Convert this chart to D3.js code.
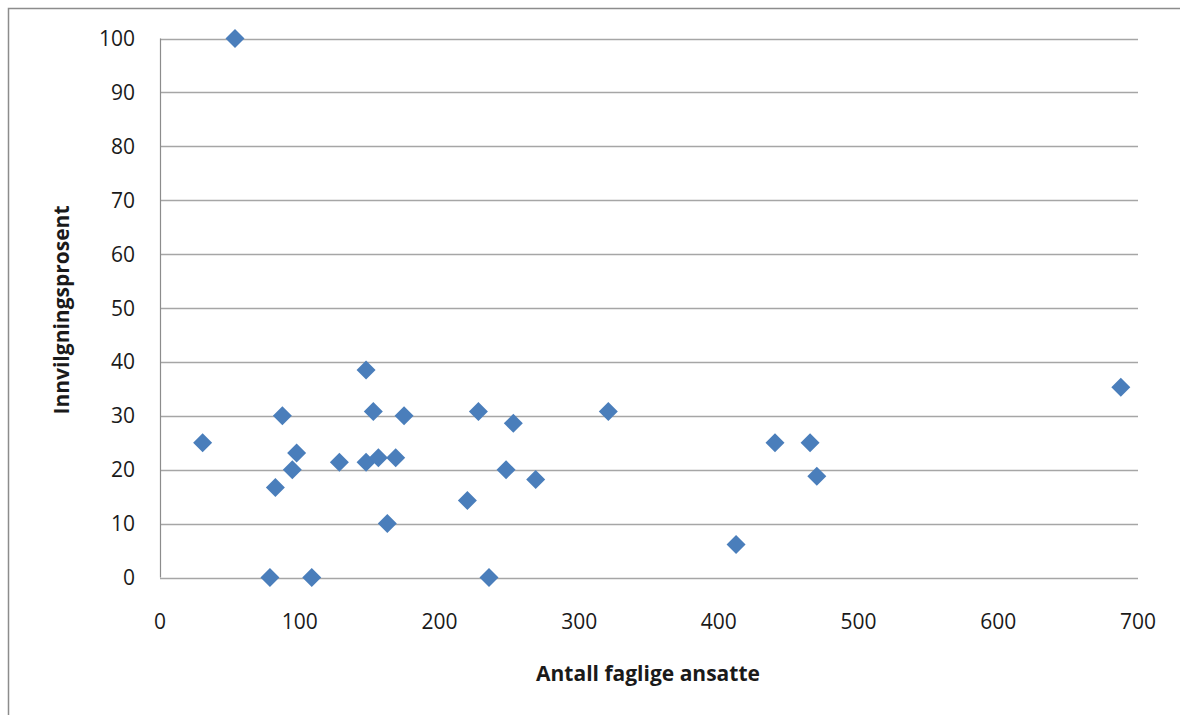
<!DOCTYPE html>
<html><head><meta charset="utf-8">
<script src="https://cdn.jsdelivr.net/npm/d3@7"></script>
<style>body{margin:0;background:#fff;}svg{display:block;font-family:"Open Sans",Lato,sans-serif;}</style>
</head><body>
<svg id="chart" width="1180" height="715"></svg>
<script>
const ansatte = [53.7, 30.5, 87.6, 97.8, 94.7, 82.6, 78.7, 108.6, 128.4, 147.5, 152.7, 156.3, 168.7, 174.7, 162.7, 147.5, 227.9, 252.9, 247.7, 220.0, 235.5, 268.9, 320.9, 412.3, 440.2, 465.3, 470.1, 687.7];
const prosent = [100, 25.0, 30.0, 23.1, 20.0, 16.7, 0, 0, 21.4, 21.4, 30.8, 22.2, 22.2, 30.0, 10.0, 38.5, 30.8, 28.6, 20.0, 14.3, 0, 18.2, 30.8, 6.1, 25.0, 25.0, 18.8, 35.3];
const xTicks = [0, 100, 200, 300, 400, 500, 600, 700];
const yTicks = [0, 10, 20, 30, 40, 50, 60, 70, 80, 90, 100];
const xTitle = "Antall faglige ansatte";
const yTitle = "Innvilgningsprosent";

const svg = d3.select("#chart");
const L = 160, R = 1138, T = 38.5, B = 577.5;
const x = d3.scaleLinear().domain([0, 700]).range([L, R]);
const y = d3.scaleLinear().domain([0, 100]).range([B, T]);

// outer frame
svg.append("path").attr("d", "M8.5,715 V8.5 H1180").attr("fill", "none").attr("stroke", "#8c8c8c").attr("stroke-width", 1.5);

// gridlines
svg.append("g").selectAll("line").data(yTicks).join("line")
  .attr("x1", L).attr("x2", R).attr("y1", d => Math.round(y(d)) + 0.5).attr("y2", d => Math.round(y(d)) + 0.5)
  .attr("stroke", "#a6a6a6").attr("stroke-width", 1.5);

// y axis line
svg.append("line").attr("x1", L + 0.5).attr("x2", L + 0.5).attr("y1", y(100)).attr("y2", y(0))
  .attr("stroke", "#8c8c8c").attr("stroke-width", 1.2);

// y tick labels
svg.append("g").selectAll("text").data(yTicks).join("text")
  .attr("x", 135).attr("y", d => y(d)).attr("dy", "0.36em").attr("text-anchor", "end")
  .attr("font-size", 21).attr("fill", "#1a1a1a").text(d => d);

// x tick labels
svg.append("g").selectAll("text").data(xTicks).join("text")
  .attr("x", d => x(d)).attr("y", 621).attr("dy", "0.36em").attr("text-anchor", "middle")
  .attr("font-size", 21).attr("fill", "#1a1a1a").text(d => d);

// titles
svg.append("text").attr("x", 648).attr("y", 673).attr("dy", "0.36em").attr("text-anchor", "middle")
  .attr("font-size", 21).attr("font-weight", "bold").attr("fill", "#1a1a1a").text(xTitle);
svg.append("text").attr("transform", "translate(61,310) rotate(-90)").attr("dy", "0.36em").attr("text-anchor", "middle")
  .attr("font-size", 21).attr("font-weight", "bold").attr("fill", "#1a1a1a").text(yTitle);

// points
const s = 9.5;
svg.append("g").selectAll("path").data(ansatte.map((d, i) => [d, prosent[i]])).join("path")
  .attr("d", d => { const cx = x(d[0]), cy = y(d[1]); return `M${cx},${cy - s}L${cx + s},${cy}L${cx},${cy + s}L${cx - s},${cy}Z`; })
  .attr("fill", "#4a7ebb");
</script>
</body></html>
